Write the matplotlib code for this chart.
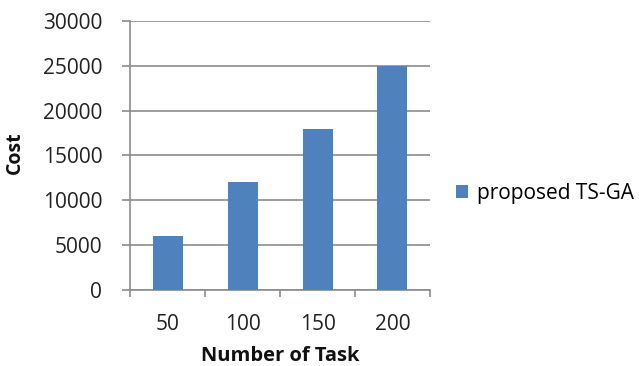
import matplotlib
matplotlib.use("Agg")
import matplotlib.pyplot as plt
import numpy as np

categories = ["50", "100", "150", "200"]
values = [6000, 12000, 18000, 25000]
series_name = "proposed TS-GA"
yticks = [0, 5000, 10000, 15000, 20000, 25000, 30000]

plt.rcParams['font.family'] = ['Open Sans', 'DejaVu Sans']

W, H = 639, 366
fig = plt.figure(figsize=(W/100, H/100), dpi=100)
ax = fig.add_axes([130/W, 1-290/H, 300/W, 269/H])

x = np.arange(len(categories))
bars = ax.bar(x, values, width=0.4, color="#4F81BD", label=series_name, zorder=3)

ax.set_xlim(-0.5, len(categories)-0.5)
ax.set_ylim(0, 30000)
ax.set_yticks(yticks)
ax.set_yticklabels([str(v) for v in yticks], fontsize=15, color="#222222")
ax.yaxis.grid(True, color="#8c8c8c", linewidth=1.2, zorder=0)

ax.set_xticks(x)
ax.set_xticklabels(categories, fontsize=15, color="#222222")
ax.tick_params(axis='x', length=0, pad=17)
ax.set_xticks(np.arange(-0.5, len(categories)), minor=True)
ax.tick_params(axis='x', which='minor', length=5, color="#8c8c8c", width=1.2, direction='out')
ax.tick_params(axis='y', length=6, color="#8c8c8c", width=1.2, direction='out', pad=14)

for s in ['top', 'right']:
    ax.spines[s].set_visible(False)
ax.spines['left'].set_color("#8c8c8c")
ax.spines['left'].set_linewidth(1.2)
ax.spines['bottom'].set_color("#8c8c8c")
ax.spines['bottom'].set_linewidth(1.2)

fig.text(15/W, 1-153/H, "Cost", rotation=90, ha='center', va='center',
         fontsize=14, fontweight='bold', color="#111111")
fig.text(280/W, 1-356/H, "Number of Task", ha='center', va='center',
         fontsize=14.5, fontweight='bold', color="#111111")

leg = fig.legend(handles=[bars], labels=[series_name], loc='center left',
                 bbox_to_anchor=(448/W, 1-193/H), frameon=False,
                 fontsize=15, handlelength=0.55, handleheight=0.6, handletextpad=0.45,
                 borderaxespad=0)

fig.savefig("out.png", dpi=100)
